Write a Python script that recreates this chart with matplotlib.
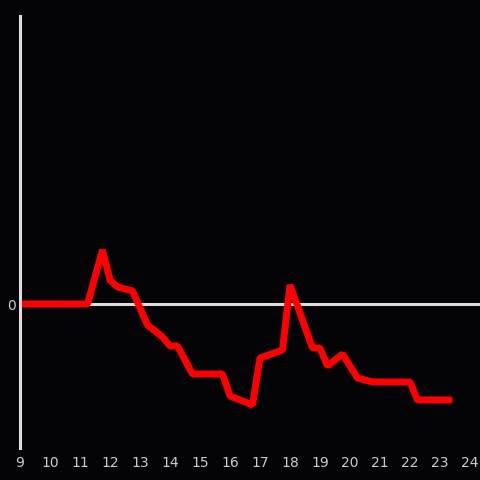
import matplotlib.pyplot as plt

# hours of day and values
hours = [9, 11.25, 11.75, 12, 12.25, 12.75, 13.25, 13.75, 14, 14.25, 14.75,
         15.75, 16, 16.75, 17, 17.75, 18, 18.75, 19, 19.25, 19.75, 20.25,
         20.75, 22, 22.25, 23.3]
values = [0, 0, 5.4, 2.4, 1.7, 1.3, -2.1, -3.3, -4.2, -4.2, -7.0,
          -7.0, -9.2, -10.1, -5.4, -4.6, 1.9, -4.4, -4.4, -6.2, -5.0, -7.4,
          -7.8, -7.8, -9.6, -9.6]
xticks = list(range(9, 25))

bg = '#040306'
fig = plt.figure(figsize=(4.8, 4.8), dpi=100, facecolor=bg)
ax = fig.add_axes([20 / 480, 32 / 480, 460 / 480, 432 / 480], facecolor=bg)

ax.axhline(0, color='#dddddd', linewidth=2.2, zorder=1)
ax.plot(hours, values, color='#ff0000', linewidth=5, solid_joinstyle='bevel', zorder=2)

ax.set_xlim(9, 24.333)
ax.set_ylim(-14.4, 28.8)
ax.set_xticks(xticks)
ax.set_yticks([0])
ax.tick_params(length=0, colors='#cccccc', labelsize=10)
ax.tick_params(axis='x', pad=6)
ax.tick_params(axis='y', pad=3)

for s in ['top', 'right', 'bottom']:
    ax.spines[s].set_visible(False)
ax.spines['left'].set_color('#dddddd')
ax.spines['left'].set_linewidth(2.2)

fig.savefig('out.png', facecolor=bg)
